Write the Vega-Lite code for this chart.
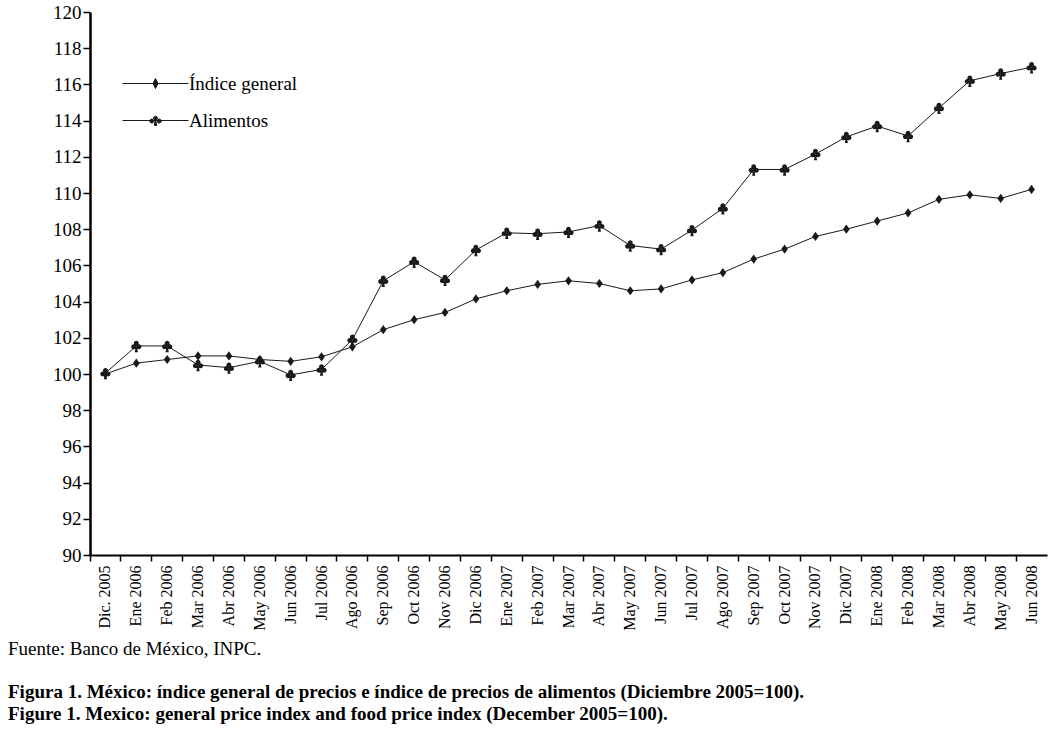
{
  "$schema": "https://vega.github.io/schema/vega-lite/v6.json",
  "width": 957,
  "height": 543,
  "autosize": {"type": "none"},
  "padding": {"left": 90, "top": 12, "right": 4, "bottom": 174},
  "background": "white",
  "config": {
    "font": "Liberation Serif",
    "view": {"stroke": null}
  },
  "title": {
    "text": "Fuente: Banco de México, INPC.",
    "subtitle": ["Figura 1. México: índice general de precios e índice de precios de alimentos (Diciembre 2005=100).", "Figure 1. Mexico: general price index and food price index (December 2005=100)."],
    "orient": "bottom",
    "anchor": "start",
    "frame": "group",
    "dx": -82,
    "offset": 10,
    "font": "Liberation Serif",
    "fontSize": 19,
    "fontWeight": "normal",
    "color": "black",
    "subtitleFont": "Liberation Serif",
    "subtitleFontSize": 19,
    "subtitleFontWeight": "bold",
    "subtitleColor": "black",
    "subtitlePadding": 24,
    "subtitleLineHeight": 22
  },
  "datasets": {
    "series": [
      {"mes": "Dic. 2005", "serie": "Índice general", "valor": 100.0},
      {"mes": "Ene 2006", "serie": "Índice general", "valor": 100.6},
      {"mes": "Feb 2006", "serie": "Índice general", "valor": 100.8},
      {"mes": "Mar 2006", "serie": "Índice general", "valor": 101.0},
      {"mes": "Abr 2006", "serie": "Índice general", "valor": 101.0},
      {"mes": "May 2006", "serie": "Índice general", "valor": 100.8},
      {"mes": "Jun 2006", "serie": "Índice general", "valor": 100.7},
      {"mes": "Jul 2006", "serie": "Índice general", "valor": 100.95},
      {"mes": "Ago 2006", "serie": "Índice general", "valor": 101.5},
      {"mes": "Sep 2006", "serie": "Índice general", "valor": 102.45},
      {"mes": "Oct 2006", "serie": "Índice general", "valor": 103.0},
      {"mes": "Nov 2006", "serie": "Índice general", "valor": 103.4},
      {"mes": "Dic 2006", "serie": "Índice general", "valor": 104.15},
      {"mes": "Ene 2007", "serie": "Índice general", "valor": 104.6},
      {"mes": "Feb 2007", "serie": "Índice general", "valor": 104.95},
      {"mes": "Mar 2007", "serie": "Índice general", "valor": 105.15},
      {"mes": "Abr 2007", "serie": "Índice general", "valor": 105.0},
      {"mes": "May 2007", "serie": "Índice general", "valor": 104.6},
      {"mes": "Jun 2007", "serie": "Índice general", "valor": 104.7},
      {"mes": "Jul 2007", "serie": "Índice general", "valor": 105.2},
      {"mes": "Ago 2007", "serie": "Índice general", "valor": 105.6},
      {"mes": "Sep 2007", "serie": "Índice general", "valor": 106.35},
      {"mes": "Oct 2007", "serie": "Índice general", "valor": 106.9},
      {"mes": "Nov 2007", "serie": "Índice general", "valor": 107.6},
      {"mes": "Dic 2007", "serie": "Índice general", "valor": 108.0},
      {"mes": "Ene 2008", "serie": "Índice general", "valor": 108.45},
      {"mes": "Feb 2008", "serie": "Índice general", "valor": 108.9},
      {"mes": "Mar 2008", "serie": "Índice general", "valor": 109.65},
      {"mes": "Abr 2008", "serie": "Índice general", "valor": 109.9},
      {"mes": "May 2008", "serie": "Índice general", "valor": 109.7},
      {"mes": "Jun 2008", "serie": "Índice general", "valor": 110.2},
      {"mes": "Dic. 2005", "serie": "Alimentos", "valor": 100.05},
      {"mes": "Ene 2006", "serie": "Alimentos", "valor": 101.55},
      {"mes": "Feb 2006", "serie": "Alimentos", "valor": 101.55},
      {"mes": "Mar 2006", "serie": "Alimentos", "valor": 100.5},
      {"mes": "Abr 2006", "serie": "Alimentos", "valor": 100.35},
      {"mes": "May 2006", "serie": "Alimentos", "valor": 100.7},
      {"mes": "Jun 2006", "serie": "Alimentos", "valor": 99.95},
      {"mes": "Jul 2006", "serie": "Alimentos", "valor": 100.25},
      {"mes": "Ago 2006", "serie": "Alimentos", "valor": 101.9},
      {"mes": "Sep 2006", "serie": "Alimentos", "valor": 105.15},
      {"mes": "Oct 2006", "serie": "Alimentos", "valor": 106.2},
      {"mes": "Nov 2006", "serie": "Alimentos", "valor": 105.2},
      {"mes": "Dic 2006", "serie": "Alimentos", "valor": 106.85},
      {"mes": "Ene 2007", "serie": "Alimentos", "valor": 107.8},
      {"mes": "Feb 2007", "serie": "Alimentos", "valor": 107.75},
      {"mes": "Mar 2007", "serie": "Alimentos", "valor": 107.85},
      {"mes": "Abr 2007", "serie": "Alimentos", "valor": 108.2},
      {"mes": "May 2007", "serie": "Alimentos", "valor": 107.1},
      {"mes": "Jun 2007", "serie": "Alimentos", "valor": 106.9},
      {"mes": "Jul 2007", "serie": "Alimentos", "valor": 107.95},
      {"mes": "Ago 2007", "serie": "Alimentos", "valor": 109.15},
      {"mes": "Sep 2007", "serie": "Alimentos", "valor": 111.3},
      {"mes": "Oct 2007", "serie": "Alimentos", "valor": 111.3},
      {"mes": "Nov 2007", "serie": "Alimentos", "valor": 112.15},
      {"mes": "Dic 2007", "serie": "Alimentos", "valor": 113.1},
      {"mes": "Ene 2008", "serie": "Alimentos", "valor": 113.7},
      {"mes": "Feb 2008", "serie": "Alimentos", "valor": 113.15},
      {"mes": "Mar 2008", "serie": "Alimentos", "valor": 114.7},
      {"mes": "Abr 2008", "serie": "Alimentos", "valor": 116.2},
      {"mes": "May 2008", "serie": "Alimentos", "valor": 116.6},
      {"mes": "Jun 2008", "serie": "Alimentos", "valor": 116.95}
    ]
  },
  "data": {"name": "series"},
  "encoding": {
    "x": {
      "field": "mes",
      "type": "ordinal",
      "sort": null,
      "bandPosition": 0.5,
      "scale": {"type": "band", "paddingInner": 0, "paddingOuter": 0},
      "axis": {
        "title": null,
        "bandPosition": 0,
        "labelAngle": -90,
        "labelFontSize": 16,
        "labelColor": "black",
        "labelPadding": 4,
        "labelFont": "Liberation Serif",
        "tickColor": "black",
        "tickSize": 6,
        "tickWidth": 1.5,
        "domainColor": "black",
        "domainWidth": 2,
        "grid": false
      }
    },
    "y": {
      "field": "valor",
      "type": "quantitative",
      "scale": {"domain": [90, 120], "nice": false, "zero": false},
      "axis": {
        "title": null,
        "values": [90, 92, 94, 96, 98, 100, 102, 104, 106, 108, 110, 112, 114, 116, 118, 120],
        "labelFontSize": 19,
        "labelColor": "black",
        "labelFont": "Liberation Serif",
        "labelPadding": 2,
        "tickColor": "black",
        "tickSize": 7,
        "tickWidth": 1.5,
        "domainColor": "black",
        "domainWidth": 2.5,
        "grid": false
      }
    }
  },
  "layer": [
    {
      "mark": {"type": "line", "strokeWidth": 1},
      "encoding": {
        "detail": {"field": "serie"},
        "color": {
          "field": "serie",
          "type": "nominal",
          "scale": {"domain": ["Índice general", "Alimentos"], "range": ["#1a1a1a", "#1a1a1a"]},
          "legend": {
            "title": null,
            "orient": "none",
            "legendX": 32,
            "legendY": 61,
            "labelFontSize": 19,
            "labelFont": "Liberation Serif",
            "labelColor": "black",
            "labelOffset": 46,
            "rowPadding": 16,
            "symbolSize": 400,
            "symbolType": "M-1,0 L5.6,0",
            "encode": {
              "symbols": {
                "update": {
                  "shape": {"signal": "datum.value === 'Alimentos' ? 'M-1,0 L5.6,0 M2.1,-0.22 A0.2,0.2 0 1,0 2.5,-0.22 A0.2,0.2 0 1,0 2.1,-0.22 Z M1.73,0.06 A0.2,0.2 0 1,0 2.13,0.06 A0.2,0.2 0 1,0 1.73,0.06 Z M2.47,0.06 A0.2,0.2 0 1,0 2.87,0.06 A0.2,0.2 0 1,0 2.47,0.06 Z M2.26,0.05 L2.18,0.5 L2.42,0.5 L2.34,0.05 Z' : 'M-1,0 L5.6,0 M2.3,-0.5 L2.55,0 L2.3,0.5 L2.05,0 Z'"},
                  "fill": {"value": "#1a1a1a"},
                  "stroke": {"value": "#1a1a1a"},
                  "strokeWidth": {"value": 1},
                  "opacity": {"value": 1}
                }
              }
            }
          }
        }
      }
    },
    {
      "transform": [{"filter": "datum.serie === 'Índice general'"}],
      "mark": {"type": "point", "filled": true, "color": "#1a1a1a", "opacity": 1, "size": 150, "shape": "M0,-0.75 L0.55,0 L0,0.75 L-0.55,0 Z"}
    },
    {
      "transform": [{"filter": "datum.serie === 'Alimentos'"}],
      "mark": {"type": "point", "filled": true, "color": "#1a1a1a", "opacity": 1, "size": 170, "shape": "M-0.38,-0.42 A0.38,0.38 0 1,0 0.38,-0.42 A0.38,0.38 0 1,0 -0.38,-0.42 Z M-0.78,0.12 A0.38,0.38 0 1,0 -0.02,0.12 A0.38,0.38 0 1,0 -0.78,0.12 Z M0.02,0.12 A0.38,0.38 0 1,0 0.78,0.12 A0.38,0.38 0 1,0 0.02,0.12 Z M-0.08,0.1 L-0.25,0.95 L0.25,0.95 L0.08,0.1 Z"}
    }
  ]
}
